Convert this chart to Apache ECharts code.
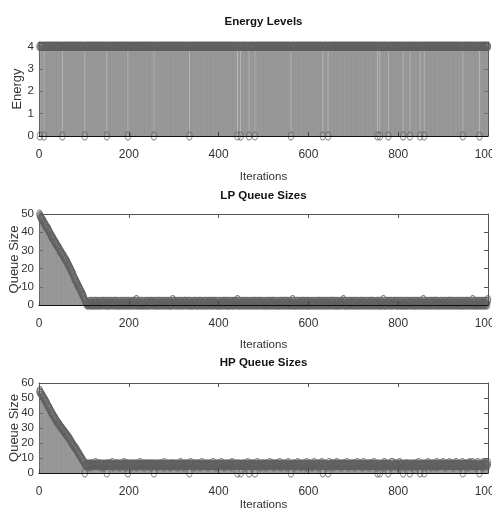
<!DOCTYPE html>
<html>
<head>
<meta charset="utf-8">
<script src="https://cdn.jsdelivr.net/npm/echarts@6/dist/echarts.min.js"></script>
<style>
html, body { margin: 0; padding: 0; background: #fff; }
#chart { width: 492px; height: 519px; }
</style>
</head>
<body>
<div id="chart"></div>
<script>
// iterations run 1..1000, x ticks every 200
var xTicks = [0, 200, 400, 600, 800, 1000];

// Energy Levels: 4 everywhere except the iterations where it dropped to 0
var energyHigh = 4;
var energyZeros = [2, 11, 52, 102, 151, 198, 256, 335, 442, 449, 468, 481, 561, 632, 644, 754, 759, 778, 811, 826, 849, 858, 944, 981];

// LP queue, iterations 1..100 (the draining ramp)
var lpRamp = [
  50, 49, 49, 48, 48, 47, 47, 47, 46, 46,
  45, 45, 44, 44, 44, 43, 43, 42, 42, 42,
  41, 41, 40, 40, 39, 39, 38, 38, 37, 37,
  37, 36, 36, 35, 35, 34, 34, 34, 33, 33,
  32, 32, 32, 31, 31, 30, 30, 29, 29, 29,
  28, 28, 27, 27, 27, 26, 26, 25, 25, 25,
  24, 24, 23, 23, 22, 22, 21, 21, 20, 20,
  19, 19, 18, 18, 17, 17, 16, 15, 15, 14,
  14, 13, 13, 12, 12, 11, 11, 10, 10, 9,
  9, 8, 8, 7, 7, 6, 6, 5, 5, 4
];
// LP queue, iterations 101..1000, one digit per iteration
var lpRows = [
  '3322110101 1021012010 0120210102 1010201102 0121012010 2010120102 1101021021 0201102010 1201020110 2101201021',
  '0102110201 2010213010 1201020102 1010201102 0210102012 1021010210 2010120201 0121020101 2010210120 1020101302',
  '1201021010 2101201021 0102210120 1021020101 2010120210 1020102120 1021010201 2010210120 1201020121 0210102010',
  '2010120102 1021020120 1020102101 2010201210 1302010210 1021012010 2101201021 0120102012 1020102101 2012010210',
  '1021010201 2010210120 1201021010 2010120102 2101021020 1201012010 2101302010 1020120102 1010210201 2010120210',
  '0120102101 2010210102 1020120102 1012010210 2010210120 1202101020 1201020101 2101201302 1020101021 0210120102',
  '1020120102 1010201210 2010210120 1021010220 1201021010 2101201020 1021013010 2010210120 1201021010 2120102010',
  '2101201020 1021010201 2010210120 1201020102 1012010210 2010130210 1021010201 2010210120 1202010210 1021012010',
  '1201021010 2102201021 0120102101 2010210120 1020102101 2012010210 1021030120 1020102101 2010210120 1201021023'
];

// HP queue, iterations 1..100
var hpRamp = [
  54, 55, 54, 53, 53, 52, 52, 51, 51, 50,
  50, 49, 49, 48, 48, 47, 47, 46, 45, 45,
  44, 44, 43, 43, 42, 41, 41, 40, 40, 39,
  39, 38, 38, 37, 37, 36, 36, 35, 35, 34,
  34, 33, 33, 33, 32, 32, 31, 31, 30, 30,
  30, 29, 29, 28, 28, 28, 27, 27, 26, 26,
  26, 25, 25, 24, 24, 24, 23, 23, 22, 22,
  21, 21, 20, 20, 19, 19, 18, 18, 17, 17,
  17, 16, 16, 15, 15, 14, 14, 13, 13, 12,
  12, 11, 11, 10, 10, 9, 9, 8, 8, 7
];
// HP queue, iterations 101..1000
var hpRows = [
  '7656565465 5656465656 6565576565 5656656545 6565456556 5656565665 6575465656 5656656545 6565565676 5646656565',
  '5665456565 6556565465 6565756556 5654656565 6565565646 5656576565 6545656565 5665656475 6556565656 5456656565',
  '6565565465 5656756565 6546565656 5656565765 6556465656 5656565645 6575656565 5656546565 6565565756 5654656565',
  '5656575656 6545656565 5656565647 6565565656 5465656575 6556565654 6565756565 5656465656 6565576565 5645656565',
  '6565465656 5657565656 6546565656 5656575645 6565565656 5465756565 6556565646 5656575656 6545656565 5665476565',
  '5656565465 6575656565 5646565657 6565565656 5456575656 6565465656 5675656565 6546565656 5656575645 6565565656',
  '6546565675 5656565654 6575656565 5656465656 6565576565 5645656565 6556565476 5656565656 6545757565 5656565654',
  '5675656565 6546565656 5656575645 6565565656 5465756565 6556565646 5656575656 6545656565 5665476565 6565565657',
  '6556465656 5657565656 6546565675 5656565645 6575656565 5656465676 6565576565 5645657565 6556565476 5667565657'
];
// iterations where the HP queue was emptied
var hpEmptied = [102, 151, 198, 256, 335, 442, 449, 468, 481, 561, 632, 644, 754, 759, 778, 811, 826, 849, 858, 944, 981];

function digits(rows) {
  return rows.join('').replace(/\s/g, '').split('').map(Number);
}

var lp = lpRamp.concat(digits(lpRows));
var hp = hpRamp.concat(digits(hpRows));
hpEmptied.forEach(function (it) { hp[it - 1] = 0; });
var energy = [];
for (var i = 0; i < 1000; i++) energy.push(energyHigh);
energyZeros.forEach(function (it) { energy[it - 1] = 0; });

function pairs(arr) {
  var out = [];
  for (var i = 0; i < arr.length; i++) out.push([i + 1, arr[i]]);
  return out;
}

var FONT = '"Liberation Sans", Arial, sans-serif';
var stemColor = '#747474';
var markColor = '#606060';
var boxColor = '#555';
var plain = function (v) { return String(v); };

var panels = [
  { title: 'Energy Levels', yName: 'Energy', data: energy, top: 42, height: 94, yMax: 4.2, yStep: 1, titleGap: 14, nameGap: 35, yNameGap: 15 },
  { title: 'LP Queue Sizes', yName: 'Queue Size', data: lp, top: 214, height: 91, yMax: 50, yStep: 10, titleGap: 12, nameGap: 34, yNameGap: 18 },
  { title: 'HP Queue Sizes', yName: 'Queue Size', data: hp, top: 383, height: 90, yMax: 60, yStep: 10, titleGap: 14, nameGap: 26, yNameGap: 18 }
];

var grids = [], xAxes = [], yAxes = [], series = [];

panels.forEach(function (p, k) {
  grids.push({ left: 39, top: p.top, width: 449, height: p.height, show: false, containLabel: false, outerBoundsMode: 'none' });
  // bottom axis
  xAxes.push({
    type: 'value', gridIndex: k, position: 'bottom', min: xTicks[0], max: xTicks[xTicks.length - 1],
    interval: xTicks[1] - xTicks[0], z: 5,
    name: 'Iterations', nameLocation: 'middle', nameGap: p.nameGap, nameMoveOverlap: false,
    nameTextStyle: { fontFamily: FONT, fontSize: 11.5, color: '#333' },
    axisLine: { onZero: false, lineStyle: { color: '#111', width: 1 } },
    axisTick: { inside: true, length: 4, lineStyle: { color: '#444' } },
    axisLabel: { fontFamily: FONT, fontSize: 12, color: '#333', margin: 13, formatter: plain },
    splitLine: { show: false }
  });
  // top box edge, title sits on it
  xAxes.push({
    type: 'value', gridIndex: k, position: 'top', min: xTicks[0], max: xTicks[xTicks.length - 1],
    interval: xTicks[1] - xTicks[0],
    name: p.title, nameLocation: 'middle', nameGap: p.titleGap, nameMoveOverlap: false,
    nameTextStyle: { fontFamily: FONT, fontSize: 11.5, fontWeight: 'bold', color: '#111' },
    axisLine: { onZero: false, lineStyle: { color: boxColor, width: 1 } },
    axisTick: { inside: true, length: 4, lineStyle: { color: boxColor } },
    axisLabel: { show: false },
    splitLine: { show: false }
  });
  yAxes.push({
    type: 'value', gridIndex: k, position: 'left', min: 0, max: p.yMax, interval: p.yStep,
    name: p.yName, nameLocation: 'middle', nameGap: p.yNameGap, nameMoveOverlap: false,
    nameTextStyle: { fontFamily: FONT, fontSize: 13, color: '#333' },
    axisLine: { show: true, onZero: false, lineStyle: { color: boxColor, width: 1 } },
    axisTick: { show: true, inside: true, length: 4, lineStyle: { color: boxColor } },
    axisLabel: { fontFamily: FONT, fontSize: 11.5, color: '#333', margin: 5, formatter: plain,
                 showMaxLabel: p.yMax % p.yStep === 0 },
    splitLine: { show: false }
  });
  yAxes.push({
    type: 'value', gridIndex: k, position: 'right', min: 0, max: p.yMax, interval: p.yStep,
    axisLine: { show: true, onZero: false, lineStyle: { color: boxColor, width: 1 } },
    axisTick: { show: true, inside: true, length: 4, lineStyle: { color: boxColor } },
    axisLabel: { show: false },
    splitLine: { show: false }
  });

  var d = pairs(p.data);
  series.push({
    type: 'custom', xAxisIndex: 2 * k, yAxisIndex: 2 * k, data: d, silent: true, animation: false,
    renderItem: function (params, api) {
      var a = api.coord([api.value(0), api.value(1)]);
      var b = api.coord([api.value(0), 0]);
      return { type: 'line', shape: { x1: a[0], y1: a[1], x2: b[0], y2: b[1] },
               style: { stroke: stemColor, lineWidth: 0.5 } };
    }
  });
  series.push({
    type: 'scatter', xAxisIndex: 2 * k, yAxisIndex: 2 * k, data: d, silent: true, animation: false,
    symbol: 'circle', symbolSize: [5.5, 8], clip: false,
    itemStyle: { color: 'rgba(0,0,0,0)', borderColor: markColor, borderWidth: 1 }
  });
});

var chart = echarts.init(document.getElementById('chart'));
chart.setOption({
  backgroundColor: '#fff',
  animation: false,
  grid: grids,
  xAxis: xAxes,
  yAxis: yAxes,
  series: series
});
</script>
</body>
</html>
